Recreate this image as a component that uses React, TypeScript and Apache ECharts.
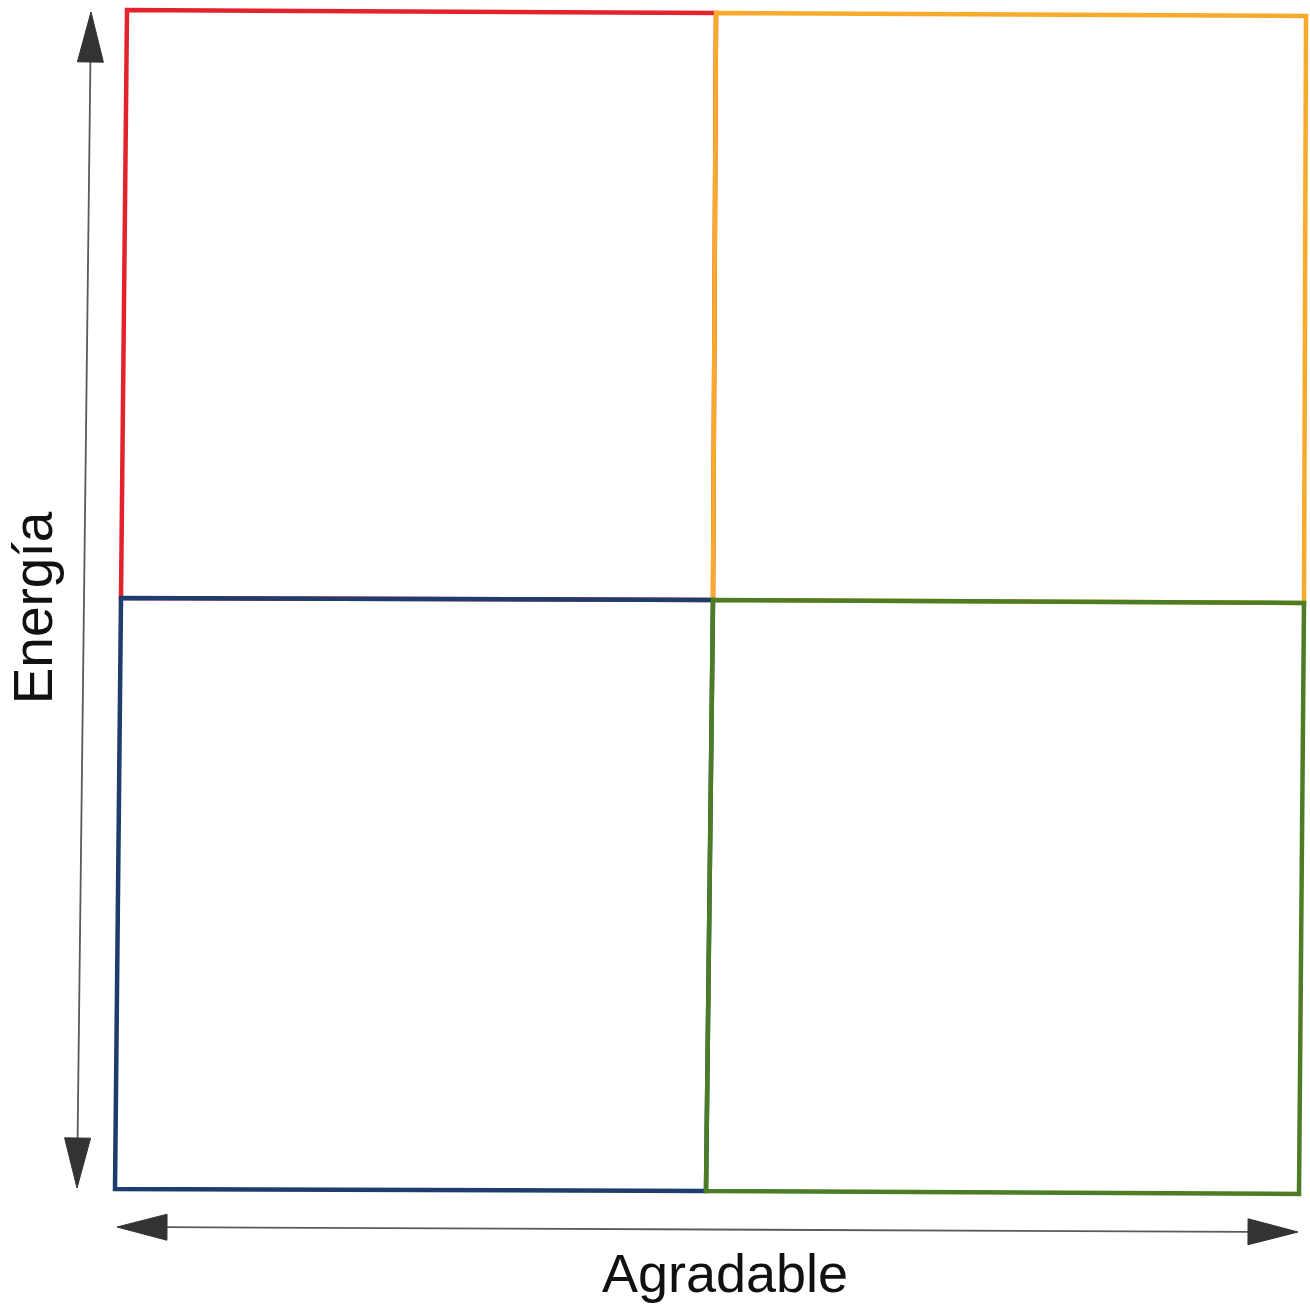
import { useEffect, useRef } from "react";
import * as echarts from "echarts";

// Diagram space (x: 0..1310 left→right, y: 0..1306 top→bottom)
const quadrantNames = ["Rojo", "Amarillo", "Azul", "Verde"];
const quadrantColors = ["#e2222c", "#f7aa2c", "#1e3d6c", "#4c7d25"];
const redCorners = [[127, 10], [716, 13], [713, 600], [121, 598]];
const yellowCorners = [[716, 13], [1306, 16], [1304, 603], [713, 600]];
const blueCorners = [[121, 598], [713, 600], [706, 1191], [115, 1189]];
const greenCorners = [[713, 600], [1304, 603], [1299, 1194], [706, 1191]];
const quadrants = [redCorners, yellowCorners, blueCorners, greenCorners];

// axis arrows: [x1, y1, x2, y2] (arrow tips at both ends)
const energyArrow = [91, 12, 77, 1188];
const pleasantArrow = [117, 1227, 1298, 1232];
const arrowNames = ["Energía", "Agradable"];

export default function App() {
  const ref = useRef<HTMLDivElement>(null);
  useEffect(() => {
    if (!ref.current) return;
    const chart = echarts.init(ref.current, undefined, { renderer: "svg" });
    chart.setOption({
      animation: false,
      backgroundColor: "#ffffff",
      grid: { left: 0, right: 0, top: 0, bottom: 0 },
      xAxis: { type: "value", min: 0, max: 1310, show: false },
      yAxis: { type: "value", min: 0, max: 1306, inverse: true, show: false },
      series: [
        {
          type: "custom",
          name: "Cuadrantes",
          silent: true,
          data: quadrants.map((c, i) => ({ name: quadrantNames[i], value: [c[0][0], c[0][1]] })),
          renderItem: (params: any, api: any) => {
            const corners = quadrants[params.dataIndex];
            const pts = corners.map((c) => api.coord(c));
            return {
              type: "polygon",
              shape: { points: pts },
              style: {
                fill: "none",
                stroke: quadrantColors[params.dataIndex],
                lineWidth: 4.5,
                lineJoin: "miter",
              },
            };
          },
        },
        {
          type: "custom",
          name: "Ejes",
          silent: true,
          data: [
            { name: arrowNames[0], value: energyArrow },
            { name: arrowNames[1], value: pleasantArrow },
          ],
          renderItem: (params: any, api: any) => {
            const p1 = api.coord([api.value(0), api.value(1)]);
            const p2 = api.coord([api.value(2), api.value(3)]);
            const dx = p2[0] - p1[0];
            const dy = p2[1] - p1[1];
            const len = Math.sqrt(dx * dx + dy * dy);
            const ux = dx / len;
            const uy = dy / len;
            const nx = -uy;
            const ny = ux;
            const L = 50;
            const W = 13;
            const b1 = [p1[0] + ux * L, p1[1] + uy * L];
            const b2 = [p2[0] - ux * L, p2[1] - uy * L];
            return {
              type: "group",
              children: [
                {
                  type: "line",
                  shape: { x1: b1[0], y1: b1[1], x2: b2[0], y2: b2[1] },
                  style: { stroke: "#5a5a5a", lineWidth: 1.8 },
                },
                {
                  type: "polygon",
                  shape: {
                    points: [
                      p1,
                      [b1[0] + nx * W, b1[1] + ny * W],
                      [b1[0] - nx * W, b1[1] - ny * W],
                    ],
                  },
                  style: { fill: "#333333", stroke: "#333333", lineWidth: 1 },
                },
                {
                  type: "polygon",
                  shape: {
                    points: [
                      p2,
                      [b2[0] + nx * W, b2[1] + ny * W],
                      [b2[0] - nx * W, b2[1] - ny * W],
                    ],
                  },
                  style: { fill: "#333333", stroke: "#333333", lineWidth: 1 },
                },
              ],
            };
          },
        },
      ],
      graphic: [
        {
          type: "text",
          x: 33,
          y: 608,
          rotation: Math.PI / 2,
          style: {
            text: arrowNames[0],
            fill: "#111111",
            font: '55px "Liberation Sans", Arial, sans-serif',
            textAlign: "center",
            textVerticalAlign: "middle",
          },
        },
        {
          type: "text",
          x: 725,
          y: 1273,
          style: {
            text: arrowNames[1],
            fill: "#111111",
            font: '54px "Liberation Sans", Arial, sans-serif',
            textAlign: "center",
            textVerticalAlign: "middle",
          },
        },
      ],
    });
    return () => chart.dispose();
  }, []);
  return (
    <div
      ref={ref}
      style={{ position: "fixed", left: 0, top: 0, width: 1310, height: 1306 }}
    />
  );
}
